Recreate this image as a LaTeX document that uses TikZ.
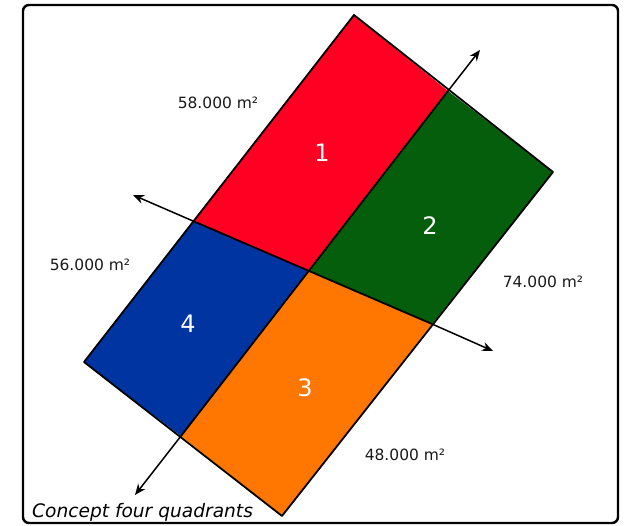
\documentclass[tikz,border=0pt]{standalone}
\usepackage{fontspec}
\setmainfont{DejaVu Sans}
\usepackage{xcolor}
\usetikzlibrary{arrows.meta}

\definecolor{quadred}{RGB}{255,0,34}
\definecolor{quadgreen}{RGB}{5,94,12}
\definecolor{quadblue}{RGB}{0,52,160}
\definecolor{quadorange}{RGB}{255,118,0}

\begin{document}
\begin{tikzpicture}[
  x=1pt, y=-1pt,
  quad/.style={draw=black, line width=1.8pt, line join=round},
  area/.style={font=\fontsize{15.5}{18}\selectfont, text=black!90, inner sep=0pt},
  number/.style={font=\fontsize{24}{27}\selectfont, text=white, inner sep=0pt},
  axis/.style={-{Stealth[length=11pt,width=9pt]}, line width=1.5pt}
]
  \useasboundingbox (0,0) rectangle (627,526);
  \draw[line width=2.4pt, rounded corners=6pt] (23,5) rectangle (618,523);

  % corners and split points
  \coordinate (top) at (354,15);
  \coordinate (right) at (553,172);
  \coordinate (bottom) at (282,516);
  \coordinate (left) at (84,362);
  \coordinate (tr) at (448,91);
  \coordinate (bl) at (181,436);
  \coordinate (tl) at (193,221);
  \coordinate (br) at (432,324);
  \coordinate (mid) at (intersection of tr--bl and tl--br);

  \fill[quadred] (top) -- (tr) -- (mid) -- (tl) -- cycle;
  \fill[quadgreen] (tr) -- (right) -- (br) -- (mid) -- cycle;
  \fill[quadorange] (mid) -- (br) -- (bottom) -- (bl) -- cycle;
  \fill[quadblue] (tl) -- (mid) -- (bl) -- (left) -- cycle;
  \draw[quad] (top) -- (right) -- (bottom) -- (left) -- cycle;
  \draw[quad] (tr) -- (bl);
  \draw[quad] (tl) -- (br);

  % axes
  \coordinate (ne) at (480,50);
  \coordinate (sw) at (135,495);
  \coordinate (nw) at (133,195);
  \coordinate (se) at (493,351);
  \draw[axis] (tr) -- (ne);
  \draw[axis] (bl) -- (sw);
  \draw[axis] (tl) -- (nw);
  \draw[axis] (br) -- (se);

  \node[number] (n1) at (322,153) {1};
  \node[number] (n2) at (430,226) {2};
  \node[number] (n3) at (305,388) {3};
  \node[number] (n4) at (188,324) {4};

  \node[area] (a1) at (218,103) {58.000 m²};
  \node[area] (a4) at (90,265) {56.000 m²};
  \node[area] (a2) at (543,282) {74.000 m²};
  \node[area] (a3) at (405,455) {48.000 m²};

  \node[anchor=base west, inner sep=0pt, font=\itshape\fontsize{18.6}{21}\selectfont] (caption) at (32,518) {Concept four quadrants};
\end{tikzpicture}
\end{document}
